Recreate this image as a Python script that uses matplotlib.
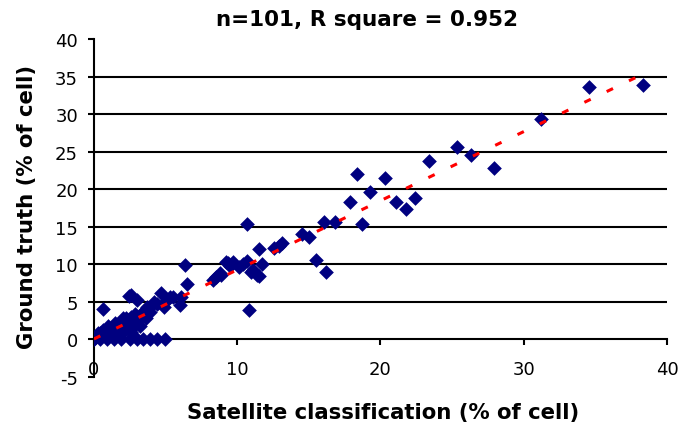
import numpy as np
import matplotlib.pyplot as plt

plt.rcParams["font.family"] = ["DejaVu Sans"]
plt.rcParams["axes.unicode_minus"] = False

# satellite classification (% of cell) vs ground truth (% of cell)
sat_x = [
    0.0, 0.45, 0.9, 1.4, 1.9, 2.5, 3.0, 3.4, 3.9, 4.4, 4.95,
    0.1, 0.4, 0.8, 1.2, 0.6, 1.6, 0.3, 1.0, 0.6,
    0.6,
    2.0, 2.85, 2.4, 2.0, 2.27, 2.6, 2.85, 3.3, 3.0, 3.5,
    3.7, 4.0, 4.2, 4.9, 3.67,
    2.46, 2.97, 2.6,
    4.7, 5.3, 5.5, 6.0, 6.1,
    6.33, 6.5,
    8.3, 8.5, 8.8, 8.9,
    9.2, 9.35, 9.7, 10.1, 10.7, 10.97, 11.4, 11.7, 11.1, 11.5,
    10.7, 10.85,
    11.5, 12.6, 13.1,
    14.5, 15.0,
    15.5, 16.2,
    16.07, 16.8, 18.7,
    17.9, 18.37, 19.3, 20.3, 21.1, 21.8, 22.4,
    23.4, 25.35, 26.3, 27.9, 31.2, 34.55, 38.33,
    1.3, 1.8, 2.2, 3.2, 3.6, 4.4, 5.0, 1.0, 1.5, 2.6, 3.9, 0.3,
    9.5, 10.4, 12.9,
]
truth_y = [
    0.0, 0.0, 0.0, 0.0, 0.0, 0.0, 0.0, 0.0, 0.0, 0.0, 0.0,
    0.2, 0.8, 1.0, 0.6, 1.2, 1.2, 0.4, 0.3, 0.6,
    4.0,
    1.9, 1.9, 2.3, 2.8, 2.8, 3.0, 3.4, 3.4, 2.5, 3.8,
    4.3, 4.5, 5.0, 4.3, 4.1,
    5.8, 5.2, 5.9,
    6.2, 5.65, 5.6, 4.6, 5.65,
    9.85, 7.4,
    7.9, 8.3, 8.9, 8.6,
    10.3, 10.2, 10.3, 9.6, 10.4, 9.0, 8.6, 10.1, 9.2, 8.5,
    15.4, 3.97,
    12.0, 12.2, 12.8,
    14.0, 13.6,
    10.6, 9.0,
    15.7, 15.7, 15.4,
    18.3, 22.0, 19.6, 21.5, 18.3, 17.4, 18.8,
    23.8, 25.65, 24.6, 22.8, 29.4, 33.6, 33.9,
    1.6, 0.8, 1.3, 1.8, 2.9, 4.7, 5.1, 1.8, 2.2, 1.0, 3.6, 0.9,
    9.8, 10.0, 12.5,
]

x_ticks = [0, 10, 20, 30, 40]
y_ticks = [-5, 0, 5, 10, 15, 20, 25, 30, 35, 40]
grid_levels = [5, 10, 15, 20, 25, 30, 35]

fig = plt.figure(figsize=(6.79, 4.35), dpi=100)
ax = fig.add_axes([0.1384, 0.131, 0.8439, 0.777])

ax.scatter(sat_x, truth_y, marker="D", s=56, color="#000080", linewidths=0, zorder=3)

# linear trendline (red dashed)
coef = np.polyfit(sat_x, truth_y, 1)
xs = np.array([min(sat_x), max(sat_x)])
ax.plot(xs, np.polyval(coef, xs), color="#ff0000", lw=2.2,
        linestyle=(0, (2.3, 5.8)), zorder=4)

ax.hlines(grid_levels, 0, 40, colors="black", lw=1.5, zorder=1)

ax.set_xlim(0, 40)
ax.set_ylim(-5, 40)
ax.set_xticks(x_ticks)
ax.set_yticks(y_ticks)

for s in ["top", "right"]:
    ax.spines[s].set_visible(False)
ax.spines["bottom"].set_position(("data", 0))
ax.spines["bottom"].set_linewidth(1.5)
ax.spines["left"].set_linewidth(1.5)
ax.spines["bottom"].set_zorder(2)

ax.tick_params(axis="x", direction="out", length=4, width=1.5, pad=11, labelsize=13)
ax.tick_params(axis="y", direction="out", length=4.5, width=1.5, pad=7, labelsize=13)

fig.text(0.541, 0.954, "n=101, R square = 0.952", ha="center", va="center",
         fontsize=15.5, fontweight="bold")
fig.text(0.564, 0.05, "Satellite classification (% of cell)", ha="center", va="center",
         fontsize=15.3, fontweight="bold")
fig.text(0.040, 0.525, "Ground truth (% of cell)", ha="center", va="center",
         rotation=90, fontsize=15.3, fontweight="bold")

fig.savefig("out.png", dpi=100)
